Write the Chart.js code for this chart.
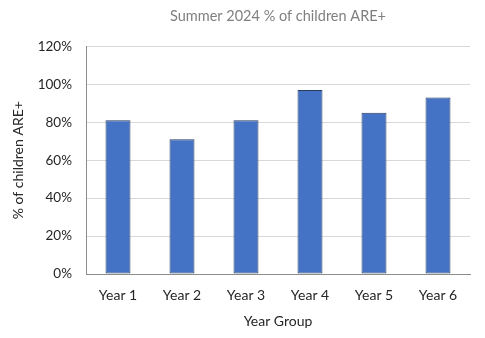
<!DOCTYPE html>
<html lang="en">
<head>
    <meta charset="UTF-8">
    <title>Summer 2024 % of children ARE+</title>
    <style>
        body {
            margin: 0;
            background-color: white;
        }
        .chart-box {
            width: 485px;
            height: 338px;
        }
    </style>
</head>
<body>
    <div class="chart-box">
        <canvas id="areChart"></canvas>
    </div>

    <script src="https://cdn.jsdelivr.net/npm/chart.js"></script>
    <script>
        // Data
        const yearGroups = ['Year 1', 'Year 2', 'Year 3', 'Year 4', 'Year 5', 'Year 6'];
        const percentAre = [81, 71, 81, 97, 85, 93];

        const fontFamily = 'Lato, "Open Sans", sans-serif';

        new Chart(document.getElementById('areChart'), {
            type: 'bar',
            data: {
                labels: yearGroups,
                datasets: [{
                    label: '% of children ARE+',
                    data: percentAre,
                    backgroundColor: '#4472c4',
                    borderColor: '#2a3a5c',
                    borderWidth: 1,
                    borderSkipped: false,
                    barPercentage: 0.39,
                    categoryPercentage: 1
                }]
            },
            options: {
                responsive: true,
                maintainAspectRatio: false,
                animation: false,
                layout: {
                    padding: { left: 10, right: 15, top: 0, bottom: 8 }
                },
                plugins: {
                    legend: { display: false },
                    tooltip: { enabled: false },
                    title: {
                        display: true,
                        fullSize: false,
                        text: 'Summer 2024 % of children ARE+',
                        color: '#7f7f7f',
                        font: { family: fontFamily, size: 14.5, weight: 'normal' },
                        padding: { top: 8, bottom: 21 }
                    }
                },
                scales: {
                    x: {
                        grid: { display: false, drawTicks: false },
                        border: { display: true, color: '#8c8c8c', width: 1 },
                        ticks: {
                            color: '#262626',
                            padding: 13,
                            font: { family: fontFamily, size: 14 }
                        },
                        title: {
                            display: true,
                            text: 'Year Group',
                            color: '#262626',
                            font: { family: fontFamily, size: 14 },
                            padding: { top: 3, bottom: 0 }
                        },
                        afterFit: (scale) => { scale.height = 56; }
                    },
                    y: {
                        min: 0,
                        max: 120,
                        grid: { color: '#d9d9d9', drawTicks: false },
                        border: { display: true, color: '#8c8c8c', width: 1 },
                        ticks: {
                            stepSize: 20,
                            color: '#262626',
                            padding: 14,
                            font: { family: fontFamily, size: 13.5 },
                            callback: (value) => value + '%'
                        },
                        title: {
                            display: true,
                            text: '% of children ARE+',
                            color: '#262626',
                            font: { family: fontFamily, size: 14 },
                            padding: { top: 0, bottom: 4 }
                        },
                        afterFit: (scale) => { scale.width = 76; }
                    }
                }
            }
        });
    </script>
</body>
</html>
